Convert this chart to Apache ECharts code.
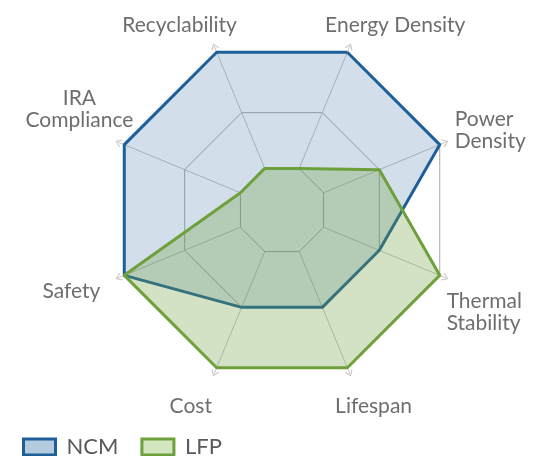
<!DOCTYPE html>
<html>
<head>
<meta charset="utf-8">
<script src="https://cdn.jsdelivr.net/npm/echarts@6/dist/echarts.min.js"></script>
<style>
  html, body { margin: 0; padding: 0; background: #fff; }
  #chart { width: 537px; height: 456px; }
</style>
</head>
<body>
<div id="chart"></div>
<script>
// indicators, counter-clockwise from upper right
const indicators = ['Energy Density', 'Recyclability', 'IRA\nCompliance', 'Safety', 'Cost', 'Lifespan', 'Thermal\nStability', 'Power\nDensity'];
const ncmValues = [100, 100, 100, 100, 48, 48, 48, 100];
const lfpValues = [0, 0, 0, 100, 100, 100, 100, 48];
const gridLevels = [0, 48, 100];
const seriesNames = ['NCM', 'LFP'];

// how far each axis name is pushed from where echarts puts it (h: sideways, up/down: spacer height)
const labelNudge = {
    'Energy Density': { h: 1, up: 166 },
    'Recyclability': { h: 3, up: 166 },
    'IRA\nCompliance': { h: 47, up: 118, center: true },
    'Safety': { h: 80, down: 79 },
    'Cost': { h: 28, down: 189 },
    'Lifespan': { h: 11, down: 189 },
    'Thermal\nStability': { h: 63, down: 121 },
    'Power\nDensity': { h: 71, up: 75 }
};

const labelFont = { fontFamily: 'Lato', fontSize: 21, color: '#6e6e6e', lineHeight: 22 };
const rich = { t: labelFont, tc: Object.assign({ align: 'center' }, labelFont) };
indicators.forEach(function (name, i) {
    const n = labelNudge[name];
    rich['h' + i] = { width: n.h, height: 1 };
    rich['v' + i] = { width: 1, height: n.up || n.down, lineHeight: n.up || n.down };
});

const chart = echarts.init(document.getElementById('chart'));

const option = {
    animation: false,
    legend: {
        left: 17,
        top: 431,
        icon: 'rect',
        itemWidth: 32,
        itemHeight: 16,
        itemGap: 22,
        textStyle: { fontFamily: 'Lato', fontSize: 22, color: '#5a5a5a', padding: [0, 0, 0, 6] },
        data: [
            { name: 'NCM', itemStyle: { color: '#b4cadf', borderColor: '#1f5f99', borderWidth: 3 } },
            { name: 'LFP', itemStyle: { color: '#d3e6c0', borderColor: '#6ea03c', borderWidth: 3 } }
        ]
    },
    radar: {
        center: [282, 210],
        radius: [45, 177],
        startAngle: 67.5,
        shape: 'polygon',
        splitNumber: 2,
        indicator: indicators.map(function (name) {
            return { name: name, min: 0, max: 105 };
        }),
        nameGap: -67,
        axisName: {
            color: '#6e6e6e',
            fontFamily: 'Lato',
            fontSize: 21,
            rich: rich,
            formatter: function (name) {
                const i = indicators.indexOf(name);
                const n = labelNudge[name];
                const onRight = (i === 0 || i >= 5);
                const tag = n.center ? 'tc' : 't';
                let lines = name.split('\n').map(function (s) {
                    return onRight ? '{h' + i + '|}{' + tag + '|' + s + '}' : '{' + tag + '|' + s + '}{h' + i + '|}';
                });
                if (n.up) lines.push('{v' + i + '|}');
                if (n.down) lines.unshift('{v' + i + '|}');
                return lines.join('\n');
            }
        },
        axisLine: {
            show: true,
            symbol: ['none', 'path://M0,7 L5,0 L10,7 L9,8 L5,2 L1,8 Z'],
            symbolSize: [8, 7],
            lineStyle: { color: '#c4c4c4', width: 1 }
        },
        splitLine: { show: false },
        splitArea: { show: false }
    },
    series: [
        {
            type: 'radar',
            name: 'grid',
            silent: true,
            symbol: 'none',
            lineStyle: { color: '#a9a9a9', width: 1 },
            data: gridLevels.map(function (v) {
                return { value: indicators.map(function () { return v; }) };
            })
        },
        {
            type: 'radar',
            name: seriesNames[0],
            symbol: 'none',
            lineStyle: { color: '#1f5f99', width: 3 },
            itemStyle: { color: '#1f5f99' },
            areaStyle: { color: '#1f5f99', opacity: 0.2 },
            data: [{ name: seriesNames[0], value: ncmValues }]
        },
        {
            type: 'radar',
            name: seriesNames[1],
            symbol: 'none',
            lineStyle: { color: '#6ea03c', width: 3 },
            itemStyle: { color: '#6ea03c' },
            areaStyle: { color: '#6ea03c', opacity: 0.3 },
            data: [{ name: seriesNames[1], value: lfpValues }]
        }
    ]
};

chart.setOption(option);
</script>
</body>
</html>
